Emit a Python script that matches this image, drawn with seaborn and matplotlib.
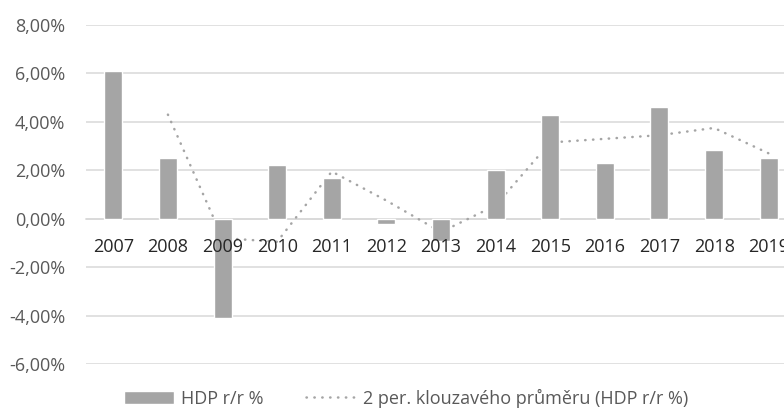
import numpy as np
import pandas as pd
import matplotlib
matplotlib.use('Agg')
import matplotlib.pyplot as plt
from matplotlib.ticker import FuncFormatter
import seaborn as sns

# data
years = ['2007', '2008', '2009', '2010', '2011', '2012', '2013',
         '2014', '2015', '2016', '2017', '2018', '2019']
hdp = [6.1, 2.5, -4.1, 2.2, 1.7, -0.2, -0.9, 2.0, 4.3, 2.3, 4.6, 2.85, 2.5]
klouzavy = [np.nan, 4.3, -0.8, -0.95, 1.95, 0.75, -0.55, 0.55, 3.15, 3.3, 3.45, 3.75, 2.7]
y_ticks = [-6, -4, -2, 0, 2, 4, 6, 8]

bar_label = 'HDP r/r %'
line_label = '2 per. klouzavého průměru (HDP r/r %)'

df = pd.DataFrame({'rok': years, 'hdp': hdp, 'ma': klouzavy, 'pos': np.arange(len(years))})

sns.set_style('white')
plt.rcParams['font.family'] = ['Open Sans', 'DejaVu Sans']

fig = plt.figure(figsize=(7.84, 4.17), dpi=100)
ax = fig.add_axes([0.1097, 0.127, 0.9056, 0.813])

sns.barplot(data=df, x='rok', y='hdp', color='#a5a5a5', saturation=1, width=0.33,
            ax=ax, label=bar_label, zorder=2)
sns.lineplot(data=df, x='pos', y='ma', color='#a5a5a5', linewidth=1.8, ax=ax,
             label=line_label, zorder=1.5, dashes=False)
line = ax.lines[-1]
line.set_linestyle((0, (0.15, 3.0)))
line.set_dash_capstyle('round')

ax.set_ylim(-6, 8)
ax.set_xlim(-0.5, len(years) - 0.5)
ax.set_yticks(y_ticks)
ax.yaxis.set_major_formatter(FuncFormatter(lambda v, p: f'{v:.2f}%'.replace('.', ',')))
ax.grid(axis='y', color='#d9d9d9', linewidth=1.1)
ax.set_axisbelow(True)
ax.xaxis.set_zorder(5)   # year labels on top of the bars, like in Excel

for s in ['top', 'right', 'left']:
    ax.spines[s].set_visible(False)
ax.spines['bottom'].set_position(('data', 0))
ax.spines['bottom'].set_color('#d9d9d9')
ax.spines['bottom'].set_linewidth(1.1)
ax.spines['bottom'].set_zorder(1)

ax.tick_params(axis='y', length=0, pad=15, labelsize=13, labelcolor='#595959')
ax.tick_params(axis='x', length=0, pad=14, labelsize=13, labelcolor='#262626')
ax.set_xlabel('')
ax.set_ylabel('')

handles, labels = ax.get_legend_handles_labels()
order = [labels.index(bar_label), labels.index(line_label)]
ax.legend([handles[i] for i in order], [labels[i] for i in order],
          loc='center', bbox_to_anchor=(0.518, 0.045),
          bbox_transform=fig.transFigure, ncol=2, frameon=False,
          fontsize=13, labelcolor='#595959', handlelength=2.8,
          handletextpad=0.4, columnspacing=2.3)

fig.savefig('out.png', dpi=100)
